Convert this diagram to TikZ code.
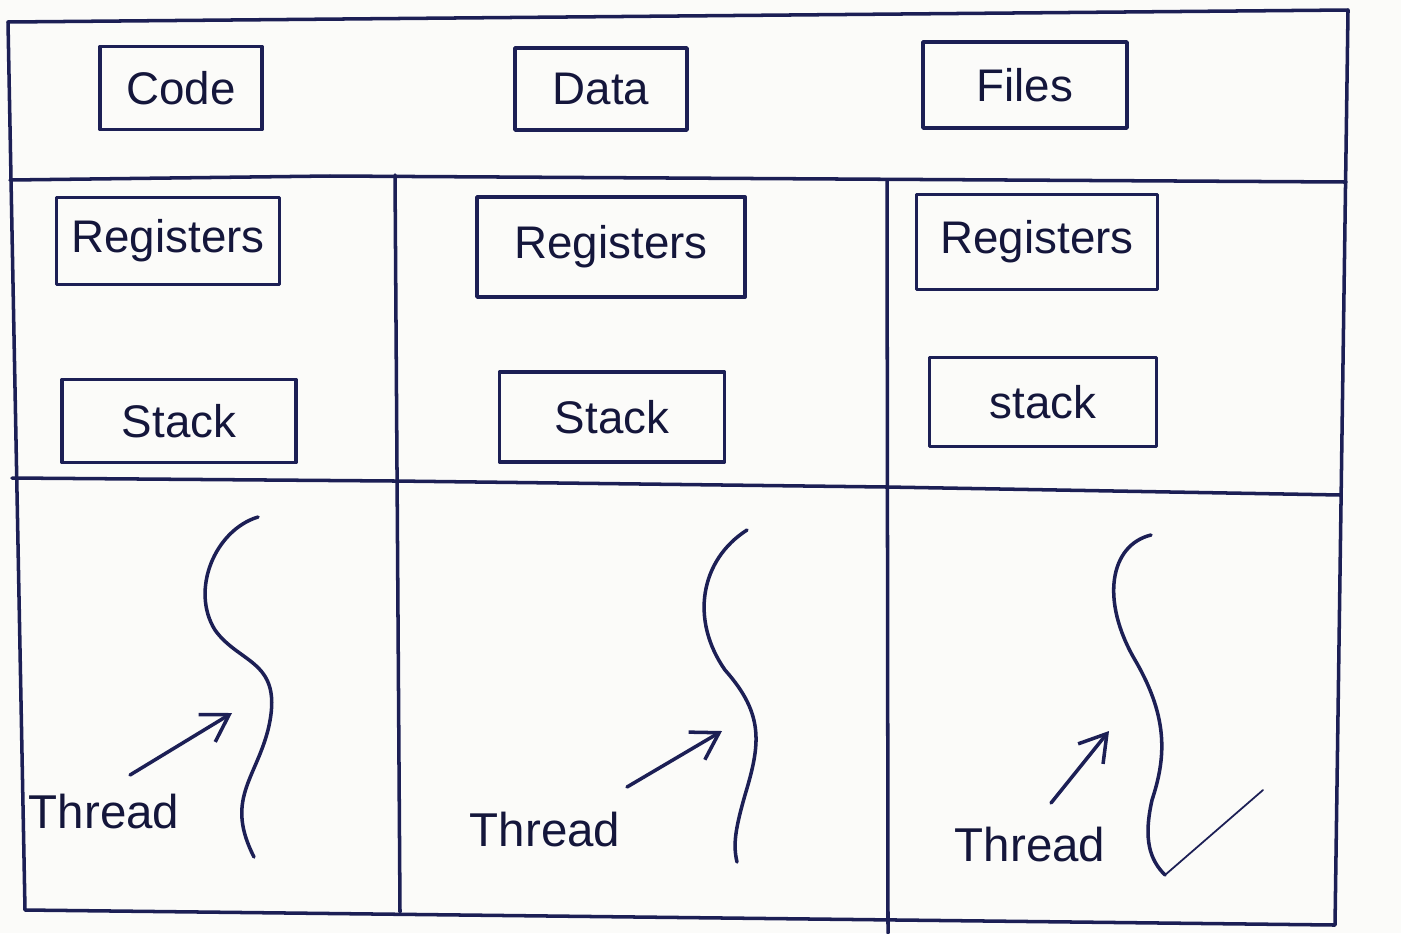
\documentclass[tikz,border=0pt]{standalone}
\usepackage{fontspec}
\setmainfont{Liberation Sans}
\usepackage{tikz}
\usetikzlibrary{arrows.meta}
\usepackage{xcolor}
\definecolor{ink}{HTML}{1C1F55}
\definecolor{paper}{HTML}{FBFBF9}

\begin{document}
\begin{tikzpicture}[x=0.01cm,y=-0.01cm,>={Straight Barb[length=2.6mm,width=3.2mm]},line cap=round,line join=round,
  frame/.style={draw=ink,line width=1pt},
  part/.style={draw=ink,line width=1pt,text=ink!70!black,font=\fontsize{13}{15}\selectfont,inner sep=0pt},
  tag/.style={text=ink!70!black,font=\fontsize{13.5}{16}\selectfont,inner sep=0pt},
  strand/.style={draw=ink,line width=1pt}]
\fill[paper] (0,0) rectangle (1401,933);
\useasboundingbox (0,0) rectangle (1401,933);
% process outline and cells
\draw[frame] (8,22) -- (1348,10) -- (1335,925) -- (25,910) -- cycle;
\draw[frame] (10,180) -- (330,176) -- (1346,182);
\draw[frame] (12,478) -- (395,481) -- (887,487) -- (1341,495);
\draw[frame] (395,175) -- (400,912);
\draw[frame] (887,180) -- (888,933);
% shared by all threads
\node[part,minimum width=1.62cm,minimum height=0.83cm] (code) at (181,88) {Code};
\node[part,minimum width=1.72cm,minimum height=0.82cm] (data) at (601,89) {Data};
\node[part,minimum width=2.04cm,minimum height=0.86cm] (files) at (1025,85) {Files};
% per thread
\node[part,minimum width=2.23cm,minimum height=0.87cm] (reg1) at (168,241) {Registers};
\node[part,minimum width=2.68cm,minimum height=1.00cm] (reg2) at (611,247) {Registers};
\node[part,minimum width=2.41cm,minimum height=0.95cm] (reg3) at (1037,242) {Registers};
\node[part,minimum width=2.34cm,minimum height=0.83cm] (stack1) at (179,421) {Stack};
\node[part,minimum width=2.25cm,minimum height=0.90cm] (stack2) at (612,417) {Stack};
\node[part,minimum width=2.27cm,minimum height=0.89cm] (stack3) at (1043,402) {stack};
% the threads
\draw[strand] (258,517) .. controls (215,530) and (190,590) .. (215,630)
  .. controls (240,665) and (285,660) .. (268,730)
  .. controls (255,780) and (225,800) .. (254,857);
\draw[strand] (747,530) .. controls (700,560) and (690,620) .. (725,670)
  .. controls (765,715) and (760,745) .. (745,795)
  .. controls (735,830) and (733,845) .. (737,862);
\draw[strand] (1151,535) .. controls (1110,545) and (1100,600) .. (1135,660)
  .. controls (1170,720) and (1165,760) .. (1152,800)
  .. controls (1143,840) and (1150,860) .. (1165,875);
\draw[ink,line width=0.5pt] (1165,875) -- (1263,790);
\coordinate (tip1) at (232,713);
\coordinate (tip2) at (722,731);
\coordinate (tip3) at (1109,731);
\coordinate (from1) at (130,775);
\coordinate (from2) at (627,787);
\coordinate (from3) at (1051,803);
\node[tag] (th1) at (104,812) {Thread};
\node[tag] (th2) at (545,830) {Thread};
\node[tag] (th3) at (1030,845) {Thread};
\draw[strand,->] (from1) -- (tip1);
\draw[strand,->] (from2) -- (tip2);
\draw[strand,->] (from3) -- (tip3);
\end{tikzpicture}
\end{document}
